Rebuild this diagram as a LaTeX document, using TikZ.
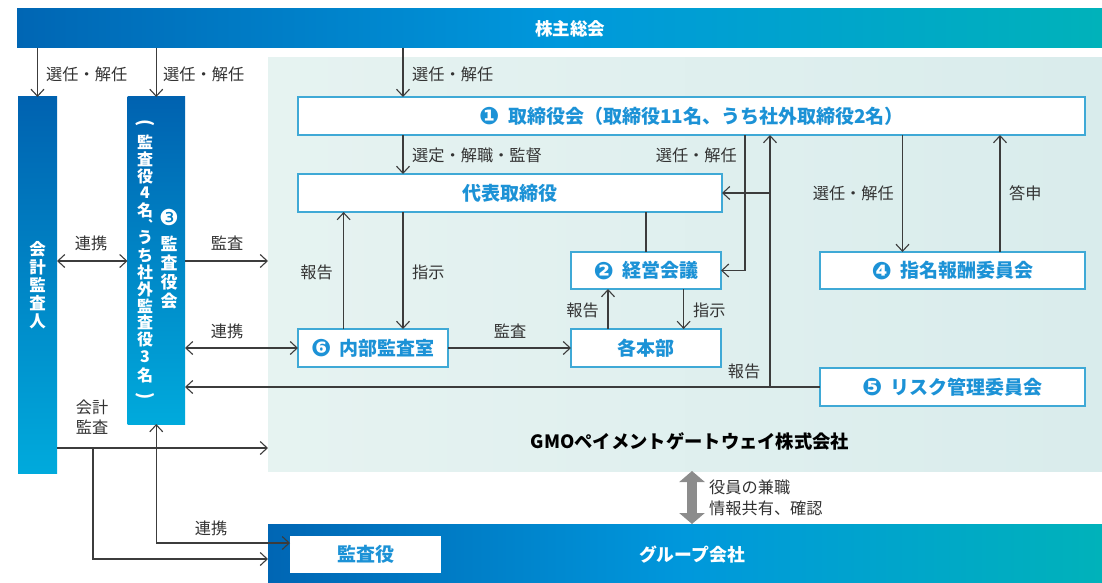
\documentclass[tikz,border=0pt]{standalone}
\usepackage{fontspec}
\setmainfont{Noto Sans CJK JP}
\newfontfamily\circfont{DejaVu Sans}
\usetikzlibrary{arrows.meta}
\definecolor{barA}{RGB}{0,102,180}
\definecolor{barB}{RGB}{0,152,220}
\definecolor{barC}{RGB}{0,178,186}
\definecolor{vtop}{RGB}{0,98,176}
\definecolor{vbot}{RGB}{0,170,220}
\definecolor{bgL}{RGB}{230,243,241}
\definecolor{bgR}{RGB}{217,236,236}
\definecolor{boxborder}{RGB}{63,169,214}
\definecolor{textblue}{RGB}{28,146,214}
\definecolor{linegray}{RGB}{60,60,60}
\definecolor{lblgray}{RGB}{51,51,51}
\definecolor{arrowgray}{RGB}{140,140,140}
\newcommand{\circnum}[1]{\raisebox{-1.6pt}{\circfont\fontsize{24}{24}\selectfont #1}\hspace{0.45em}}
\begin{document}
\begin{tikzpicture}[x=1pt,y=-1pt,
  >={Straight Barb[length=7pt,width=13pt]},
  region/.style={inner sep=0pt, outer sep=0pt, anchor=north west},
  hbar/.style={region, left color=barA, right color=barC, middle color=barB, draw=none},
  vbar/.style={region, top color=vtop, bottom color=vbot, draw=none},
  wbox/.style={region, draw=boxborder, line width=1.3pt, fill=white, text=textblue,
    font=\bfseries\fontsize{19}{22}\selectfont},
  conn/.style={draw=linegray, line width=1.1pt},
  lbl/.style={inner sep=0pt, text=lblgray, font=\fontsize{16.2}{20}\selectfont},
  wtxt/.style={inner sep=0pt, text=white, font=\bfseries\fontsize{17.5}{20}\selectfont},
  vch/.style={inner sep=0pt, text=white, font=\bfseries\fontsize{16}{17}\selectfont},
]
\useasboundingbox (0,0) rectangle (1102,583);

% regions and bars
\node[region, left color=bgL, right color=bgR, minimum width=834pt, minimum height=413pt] (gmo) at (268,58) {};
\node[hbar, minimum width=1085pt, minimum height=39pt] (top) at (17,9) {};
\node[wtxt] (toptxt) at (570,29) {株主総会};
\node[hbar, minimum width=834pt, minimum height=59pt] (group) at (268,524) {};
\node[wtxt, font=\bfseries\fontsize{17.8}{20}\selectfont] (grouptxt) at (692,555) {グループ会社};
\node[inner sep=0pt, text=black, font=\bfseries\fontsize{18.3}{20}\selectfont] (gmotxt) at (690,441) {GMOペイメントゲートウェイ株式会社};

% vertical boxes
\node[vbar, minimum width=39pt, minimum height=376pt, text=white, align=center,
  font=\bfseries\fontsize{16.5}{18}\selectfont] (kaikei) at (18,97) {会\\計\\監\\査\\人};
\node[vbar, minimum width=57.5pt, minimum height=327pt] (kansa) at (127.5,97) {};
\node[wtxt, font=\circfont\fontsize{22}{22}\selectfont] (c3) at (169,217) {❸};
\node[wtxt, align=center, anchor=north, font=\bfseries\fontsize{17}{19}\selectfont] (kansaA) at (169,236) {監\\査\\役\\会};
% left column: （監査役4名、うち社外監査役3名）
\node[vch, font=\bfseries\fontsize{18}{18}\selectfont] (kbo) at (145,123) {\rotatebox{-90}{(}};
\foreach \c/\yy [count=\i] in {監/142, 査/159, 役/176, 4/193, 名/210, う/238, ち/256, 社/272, 外/289, 監/306, 査/322, 役/339, 3/357, 名/375}
  \node[vch] (kb\i) at (145,\yy) {\c};
\node[vch, font=\bfseries\fontsize{12}{12}\selectfont] (kbk) at (147,224) {︑};
\node[vch, font=\bfseries\fontsize{18}{18}\selectfont] (kbc) at (145,396) {\rotatebox{-90}{)}};

% white boxes
\node[wbox, minimum width=787pt, minimum height=38pt] (tori) at (298,97)
  {\circnum{❶}取締役会（取締役11名、うち社外取締役2名）};
\node[wbox, minimum width=424pt, minimum height=38pt] (daihyo) at (298,174) {代表取締役};
\node[wbox, minimum width=150pt, minimum height=37pt] (keiei) at (571,252) {\circnum{❷}経営会議};
\node[wbox, minimum width=150pt, minimum height=38pt] (honbu) at (571,329) {各本部};
\node[wbox, minimum width=265pt, minimum height=37pt] (shimei) at (820,252) {\circnum{❹}指名報酬委員会};
\node[wbox, minimum width=265pt, minimum height=38pt] (risk) at (820,368) {\circnum{❺}リスク管理委員会};
\node[wbox, minimum width=150pt, minimum height=38pt] (naibu) at (298,329) {\circnum{❻}内部監査室};
\node[wbox, draw=none, minimum width=151pt, minimum height=37pt] (kyaku) at (290,536) {監査役};

% helper coordinates
\coordinate (xa) at (403,0);
\coordinate (xb) at (745,0);
\coordinate (xc) at (770,0);
\coordinate (xd) at (902.5,0);
\coordinate (xe) at (1000,0);
\coordinate (xf) at (343.6,0);
\coordinate (xg) at (608,0);
\coordinate (xh) at (683.6,0);
\coordinate (xi) at (93,0);
\coordinate (xj) at (692,0);
\coordinate (ya) at (0,261);
\coordinate (yb) at (0,448);
\coordinate (yc) at (0,559);
\coordinate (yd) at (0,543);

% connectors
\draw[conn,->] (top.south -| kaikei.north) -- (kaikei.north);
\draw[conn,->] (top.south -| kansa.north) -- (kansa.north);
\draw[conn,->] (top.south -| xa) -- (tori.north -| xa);
\draw[conn,->] (tori.south -| xa) -- (daihyo.north -| xa);
\draw[conn,->] (tori.south -| xb) -- (xb |- keiei.east) -- (keiei.east);
\draw[conn,->] (risk.west) -- (kansa.east |- risk.west);
\draw[conn,->] (xc |- risk.west) -- (tori.south -| xc);
\draw[conn,->] (xc |- daihyo.east) -- (daihyo.east);
\draw[conn,->] (tori.south -| xd) -- (shimei.north -| xd);
\draw[conn,->] (shimei.north -| xe) -- (tori.south -| xe);
\draw[conn] (daihyo.south -| keiei.north) -- (keiei.north);
\draw[conn,->] (naibu.north -| xf) -- (daihyo.south -| xf);
\draw[conn,->] (daihyo.south -| xa) -- (naibu.north -| xa);
\draw[conn,->] (honbu.north -| xg) -- (keiei.south -| xg);
\draw[conn,->] (keiei.south -| xh) -- (honbu.north -| xh);
\draw[conn,->] (naibu.east) -- (honbu.west);
\draw[conn,<->] (kansa.east |- naibu.west) -- (naibu.west);
\draw[conn,->] (kansa.east |- ya) -- (gmo.west |- ya);
\draw[conn,<->] (kaikei.east |- ya) -- (kansa.west |- ya);
\draw[conn,->] (kaikei.east |- yb) -- (gmo.west |- yb);
\draw[conn,->] (xi |- yb) -- (xi |- yc) -- (group.west |- yc);
\draw[conn,<->] (kansa.south) -- (kansa.south |- yd) -- (kyaku.west |- yd);
\draw[draw=arrowgray, line width=10pt, {Triangle[length=11pt,width=25pt]}-{Triangle[length=11pt,width=25pt]}]
  (gmo.south -| xj) -- (group.north -| xj);

% labels
\node[lbl, anchor=west] (l1) at (46,74) {選任・解任};
\node[lbl, anchor=west] (l2) at (163,74) {選任・解任};
\node[lbl, anchor=west] (l3) at (412,74) {選任・解任};
\node[lbl, anchor=west] (l4) at (412,155) {選定・解職・監督};
\node[lbl, anchor=east] (l5) at (737,155) {選任・解任};
\node[lbl, anchor=east] (l6) at (894,193) {選任・解任};
\node[lbl, anchor=west] (l7) at (1009,193) {答申};
\node[lbl] (l8) at (91,243) {連携};
\node[lbl] (l9) at (227,243) {監査};
\node[lbl, anchor=east] (l10) at (333,272) {報告};
\node[lbl, anchor=west] (l11) at (412,272) {指示};
\node[lbl, anchor=east] (l12) at (599,310) {報告};
\node[lbl, anchor=west] (l13) at (693,310) {指示};
\node[lbl] (l14) at (227,331) {連携};
\node[lbl] (l15) at (510,331) {監査};
\node[lbl] (l16) at (744,371) {報告};
\node[lbl, align=center] (l17) at (92,417) {会計\\監査};
\node[lbl] (l18) at (211,528) {連携};
\node[lbl, align=left, anchor=west, font=\fontsize{16.2}{21}\selectfont] (l19) at (709,497.5) {役員の兼職\\情報共有、確認};
\end{tikzpicture}
\end{document}
